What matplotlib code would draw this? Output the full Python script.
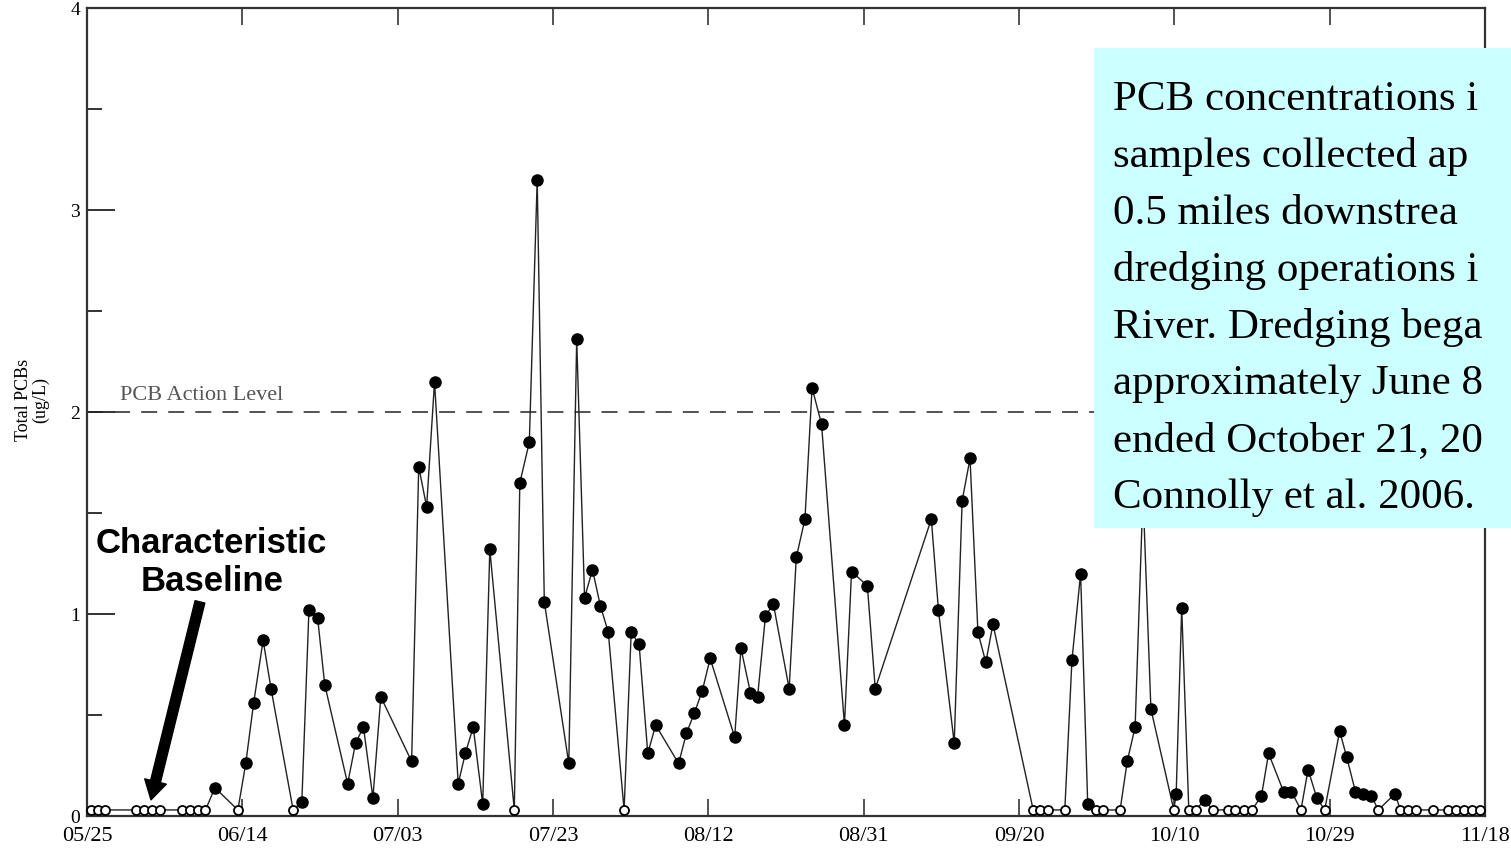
import numpy as np
import matplotlib
matplotlib.use("Agg")
import matplotlib.pyplot as plt
from matplotlib.patches import Rectangle

plt.rcParams['font.family'] = ['Liberation Serif', 'DejaVu Serif']
plt.rcParams['lines.scale_dashes'] = False

# days since 05/25 and total PCBs (ug/L); 0 = non-detect (open circle)
days = [0.5, 1.4, 2.3, 6.2, 7.2, 8.2, 9.2, 12.0, 13.0, 14.0, 15.0, 16.2, 19.1,
        20.1, 21.1, 22.3, 23.3, 26.1, 27.2, 28.1, 29.2, 30.1, 33.0, 34.0, 35.0,
        36.2, 37.2, 41.1, 42.0, 43.0, 44.0, 47.0, 47.9, 48.9, 50.1, 51.0, 54.1,
        54.8, 56.0, 57.0, 57.9, 61.0, 62.0, 63.0, 64.0, 65.0, 66.0, 68.0, 68.9,
        69.9, 71.0, 72.0, 74.9, 75.9, 76.9, 77.9, 78.9, 82.0, 82.8, 84.0, 84.9,
        85.9, 86.9, 88.9, 89.8, 90.9, 91.8, 93.0, 95.9, 96.8, 98.8, 99.8, 106.9,
        107.8, 109.8, 110.8, 111.8, 112.8, 113.8, 114.7, 119.8, 120.7, 121.7,
        123.8, 124.7, 125.8, 126.7, 127.7, 128.6, 130.8, 131.7, 132.7, 133.7,
        134.7, 137.6, 137.9, 138.6, 139.5, 140.4, 141.5, 142.5, 144.4, 145.4,
        146.5, 147.5, 148.7, 149.6, 151.5, 152.5, 153.7, 154.6, 155.7, 156.7,
        158.6, 159.5, 160.6, 161.6, 162.6, 163.5, 165.6, 166.3, 167.3, 168.3,
        170.4, 172.3, 173.3, 174.3, 175.4, 176.4]
pcb = [0, 0, 0, 0, 0, 0, 0, 0, 0, 0, 0, 0.14, 0, 0.26, 0.56, 0.87, 0.63, 0,
       0.07, 1.02, 0.98, 0.65, 0.16, 0.36, 0.44, 0.09, 0.59, 0.27, 1.73, 1.53,
       2.15, 0.16, 0.31, 0.44, 0.06, 1.32, 0, 1.65, 1.85, 3.15, 1.06, 0.26,
       2.36, 1.08, 1.22, 1.04, 0.91, 0, 0.91, 0.85, 0.31, 0.45, 0.26, 0.41,
       0.51, 0.62, 0.78, 0.39, 0.83, 0.61, 0.59, 0.99, 1.05, 0.63, 1.28, 1.47,
       2.12, 1.94, 0.45, 1.21, 1.14, 0.63, 1.47, 1.02, 0.36, 1.56, 1.77, 0.91,
       0.76, 0.95, 0, 0, 0, 0, 0.77, 1.20, 0.06, 0, 0, 0, 0.27, 0.44, 1.6,
       0.53, 0, 0.11, 1.03, 0, 0, 0.08, 0, 0, 0, 0, 0, 0.10, 0.31, 0.12, 0.12,
       0, 0.23, 0.09, 0, 0.42, 0.29, 0.12, 0.11, 0.10, 0, 0.11, 0, 0, 0, 0, 0,
       0, 0, 0, 0]

tick_labels = ["05/25", "06/14", "07/03", "07/23", "08/12",
               "08/31", "09/20", "10/10", "10/29", "11/18"]
action_level = 2.0
nd_plot = 0.03  # where non-detects sit on the chart

# the note is cut off by the right edge of the slide in the original
box_lines = ["PCB concentrations i",
             "samples collected ap",
             "0.5 miles downstrea",
             "dredging operations i",
             "River. Dredging bega",
             "approximately June 8",
             "ended October 21, 20",
             "Connolly et al. 2006."]

x = np.array(days)
y = np.array(pcb, dtype=float)
nd = y == 0
y_plot = np.where(nd, nd_plot, y)

W, H = 1511, 854
fig = plt.figure(figsize=(W / 100, H / 100), dpi=100)
ax = fig.add_axes([87 / W, 1 - 817 / H, (1485 - 87) / W, (817 - 9) / H])

ax.axhline(action_level, color='#444444', lw=1.3, dashes=(11.5, 8), zorder=1)
ax.text(4.2, action_level + 0.04, "PCB Action Level", fontsize=16,
        color='#555555', va='bottom', ha='left')

ax.plot(x, y_plot, color='#222222', lw=1.0, zorder=2, clip_on=False)
ax.plot(x[~nd], y_plot[~nd], 'o', color='black', ms=8, zorder=3, clip_on=False)
ax.plot(x[nd], y_plot[nd], 'o', mfc='white', mec='black', ms=6.5, mew=1.3,
        zorder=4, clip_on=False)

ax.set_xlim(0, 177)
ax.set_ylim(0, 4)
ax.set_xticks(np.linspace(0, 177, 10))
ax.set_xticklabels(tick_labels)
ax.set_yticks([0, 1, 2, 3, 4])
ax.set_yticks([0.5, 1.5, 2.5, 3.5], minor=True)
ax.tick_params(axis='x', direction='in', top=True, length=12, width=1.3,
               labelsize=16, pad=7, color='#444444')
ax.tick_params(axis='y', which='major', direction='in', length=20, width=1.3,
               labelsize=14, pad=5, color='#222222')
ax.tick_params(axis='y', which='minor', direction='in', length=11, width=1.3,
               color='#222222')
for s in ax.spines.values():
    s.set_linewidth(1.6)
    s.set_color('#333333')

fig.text(32 / W, 1 - 400 / H, "Total PCBs\n(ug/L)", rotation=90, fontsize=13,
         ha='center', va='center', linespacing=0.95)

ax.text(15.8, 1.26, "Characteristic\nBaseline", fontsize=25, fontweight='bold',
        family='Liberation Sans', ha='center', va='center', linespacing=1.2)
ax.annotate("", xy=(8.1, 0.08), xytext=(14.3, 1.06),
            arrowprops=dict(arrowstyle="simple,head_length=0.85,head_width=1.0,tail_width=0.45",
                            mutation_scale=16, color='black', shrinkA=0, shrinkB=0))

fig.patches.append(Rectangle((1094 / W, 1 - 529 / H), 1 - 1094 / W, (529 - 49) / H,
                             transform=fig.transFigure, facecolor='#ccffff',
                             edgecolor='none', zorder=5))
baseline = 110
for line in box_lines:
    fig.text(1113 / W, 1 - baseline / H, line, fontsize=31, va='baseline',
             ha='left', zorder=6)
    baseline += 56.9

fig.savefig("out.png", dpi=100)
